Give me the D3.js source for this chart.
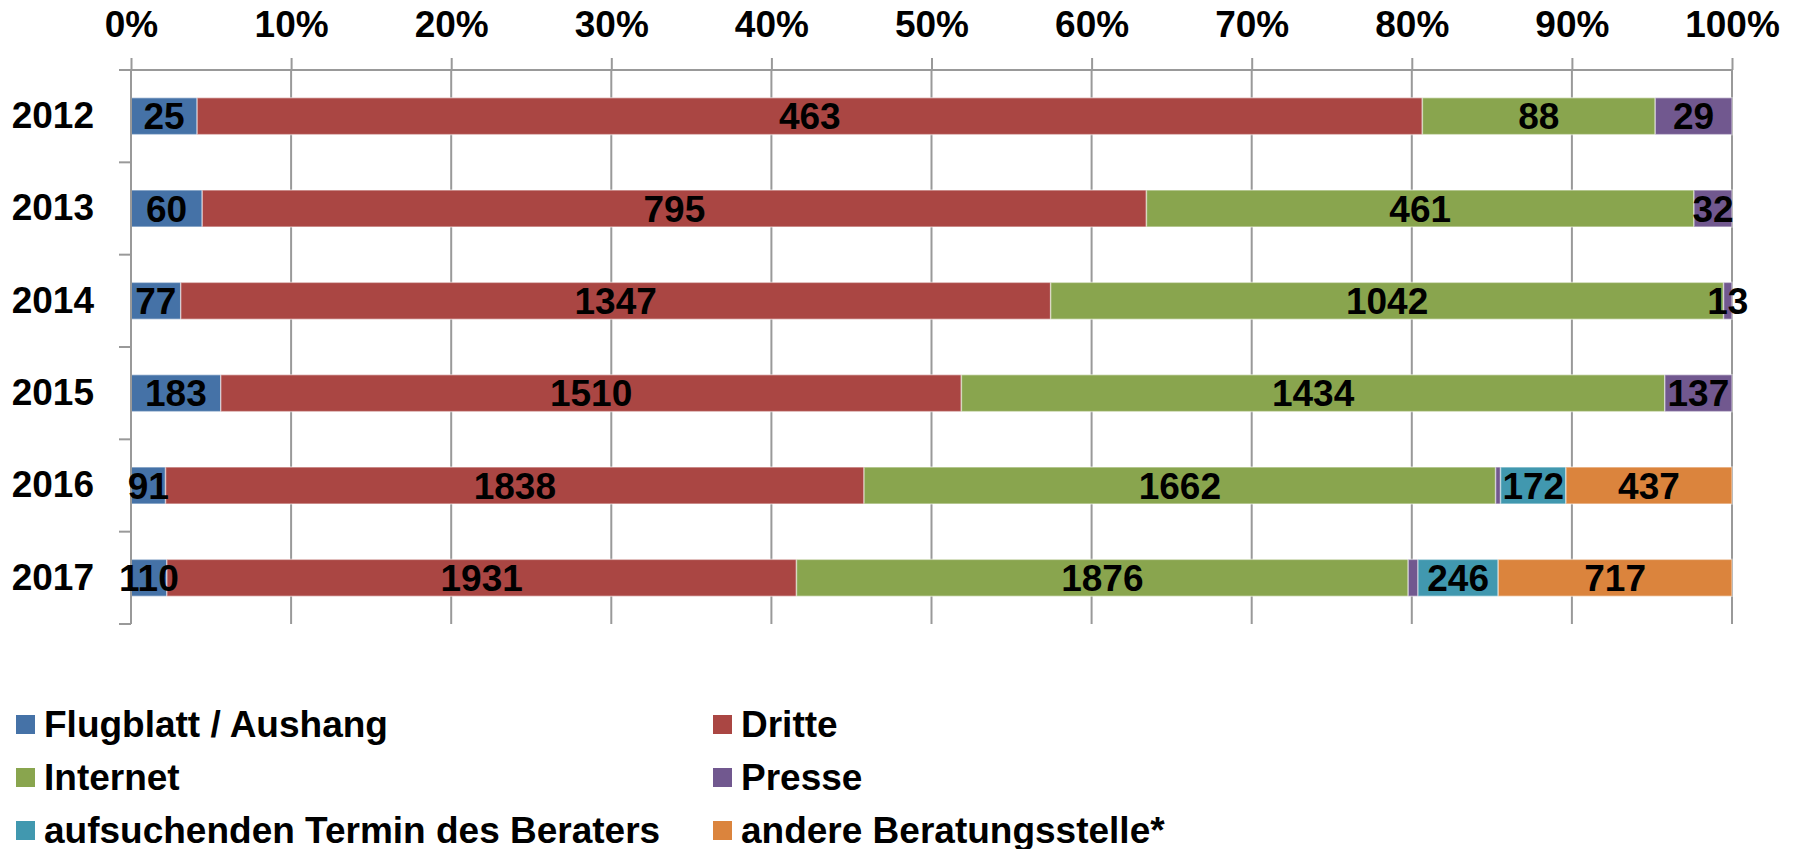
<!DOCTYPE html>
<html>
<head>
<meta charset="utf-8">
<script src="https://cdn.jsdelivr.net/npm/d3@7"></script>
<style>
  body { margin: 0; background: #fff; }
  svg text { font-family: "Liberation Sans", Arial, sans-serif; font-weight: bold; fill: #000; }
</style>
</head>
<body>
<div id="viz"></div>
<script>
var years = ['2012', '2013', '2014', '2015', '2016', '2017'];
var seriesNames = ['Flugblatt / Aushang', 'Dritte', 'Internet', 'Presse',
  'aufsuchenden Termin des Beraters', 'andere Beratungsstelle*'];
var flugblatt = [25, 60, 77, 183, 91, 110];
var dritte = [463, 795, 1347, 1510, 1838, 1931];
var internet = [88, 461, 1042, 1434, 1662, 1876];
var presse = [29, 32, 13, 137, 13, 30];
var termin = [0, 0, 0, 0, 172, 246];
var andere = [0, 0, 0, 0, 437, 717];
// segments that carry no number in the original
var unlabeled = [['Presse', '2016'], ['Presse', '2017']];
var tickLabels = ['0%', '10%', '20%', '30%', '40%', '50%', '60%', '70%', '80%', '90%', '100%'];
var colorList = ['#4572A7', '#AA4643', '#89A54E', '#71588F', '#4198AF', '#DB843D'];

var width = 1795, height = 849;
var plot = { left: 131, right: 1732, top: 70, bottom: 624 };
var fontSize = '37px';

var seriesValues = [flugblatt, dritte, internet, presse, termin, andere];
var rows = years.map(function(yr, i) {
  var r = { year: yr };
  seriesNames.forEach(function(s, j) { r[s] = seriesValues[j][i]; });
  return r;
});

var stacked = d3.stack()
  .keys(seriesNames)
  .offset(d3.stackOffsetExpand)(rows);

var xScale = d3.scaleLinear().domain([0, 1]).range([plot.left, plot.right]);
var yScale = d3.scaleBand().domain(years).range([plot.top, plot.bottom])
  .paddingInner(0.6).paddingOuter(0.3);
var color = d3.scaleOrdinal().domain(seriesNames).range(colorList);
var tickVals = d3.range(0, 11).map(function(i) { return i / 10; });

var svg = d3.select('#viz').append('svg')
  .attr('width', width)
  .attr('height', height);

// vertical grid lines
svg.append('g').selectAll('line')
  .data(tickVals)
  .enter().append('line')
  .attr('x1', function(d) { return xScale(d); })
  .attr('x2', function(d) { return xScale(d); })
  .attr('y1', plot.top)
  .attr('y2', plot.bottom)
  .attr('stroke', '#999')
  .attr('stroke-width', 2);

// top axis
var xAxis = d3.axisTop(xScale)
  .tickValues(tickVals)
  .tickFormat(function(d, i) { return tickLabels[i]; })
  .tickSize(12)
  .tickSizeOuter(0)
  .tickPadding(21);

var xGuide = svg.append('g')
  .attr('transform', 'translate(0,' + plot.top + ')')
  .call(xAxis);
xGuide.select('.domain').remove();
xGuide.selectAll('line').attr('stroke', '#999').attr('stroke-width', 2);
xGuide.selectAll('text').style('font-size', fontSize);
xGuide.append('line')
  .attr('x1', plot.left - 12).attr('x2', plot.right)
  .attr('stroke', '#999').attr('stroke-width', 2);

// bars
var barGroup = svg.append('g');
var layers = barGroup.selectAll('g')
  .data(stacked)
  .enter().append('g')
  .attr('fill', function(d) { return color(d.key); });

layers.selectAll('rect')
  .data(function(d) { return d; })
  .enter().append('rect')
  .attr('x', function(d) { return xScale(d[0]); })
  .attr('width', function(d) { return xScale(d[1]) - xScale(d[0]); })
  .attr('y', function(d) { return yScale(d.data.year); })
  .attr('height', yScale.bandwidth())
  .attr('stroke', 'rgba(255,255,255,0.45)')
  .attr('stroke-width', 1.5);

// left axis
var yAxis = d3.axisLeft(yScale).tickSize(0).tickPadding(37);
var yGuide = svg.append('g')
  .attr('transform', 'translate(' + plot.left + ',0)')
  .call(yAxis);
yGuide.select('.domain').remove();
yGuide.selectAll('text').style('font-size', fontSize);
yGuide.append('line')
  .attr('y1', plot.top).attr('y2', plot.bottom)
  .attr('stroke', '#999').attr('stroke-width', 2);
yGuide.selectAll('.sep')
  .data(d3.range(years.length + 1))
  .enter().append('line')
  .attr('class', 'sep')
  .attr('x1', -12).attr('x2', 0)
  .attr('y1', function(i) { return plot.top + i * yScale.step(); })
  .attr('y2', function(i) { return plot.top + i * yScale.step(); })
  .attr('stroke', '#999').attr('stroke-width', 2);

// value labels
var labelGroup = svg.append('g');
stacked.forEach(function(layer) {
  var key = layer.key;
  labelGroup.append('g').selectAll('text')
    .data(layer.filter(function(d) {
      var v = d.data[key];
      var hidden = unlabeled.some(function(u) { return u[0] === key && u[1] === d.data.year; });
      return v > 0 && !hidden;
    }))
    .enter().append('text')
    .attr('x', function(d) { return (xScale(d[0]) + xScale(d[1])) / 2; })
    .attr('y', function(d) { return yScale(d.data.year) + yScale.bandwidth() / 2; })
    .attr('dy', '0.36em')
    .attr('text-anchor', 'middle')
    .style('font-size', fontSize)
    .text(function(d) { return d.data[key]; });
});

// legend
var legend = svg.append('g').selectAll('g')
  .data(seriesNames)
  .enter().append('g')
  .attr('transform', function(d, i) {
    return 'translate(' + (i % 2 === 0 ? 16 : 713) + ',' + (715 + Math.floor(i / 2) * 53) + ')';
  });
legend.append('rect')
  .attr('width', 19).attr('height', 19)
  .attr('fill', function(d) { return color(d); });
legend.append('text')
  .attr('x', 28)
  .attr('y', 9.5)
  .attr('dy', '0.34em')
  .style('font-size', fontSize)
  .text(function(d) { return d; });
</script>
</body>
</html>
